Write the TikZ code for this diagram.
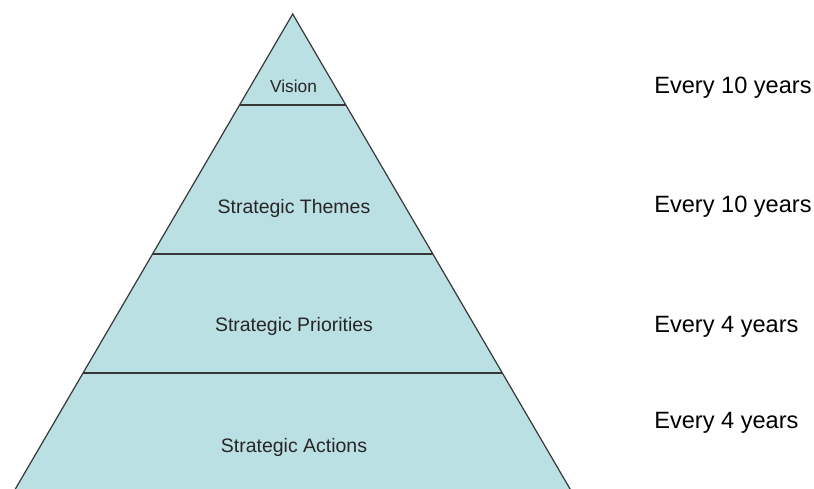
\documentclass[tikz,border=0pt]{standalone}
\usepackage{fontspec}
\setmainfont{Liberation Sans}
\usetikzlibrary{calc,positioning}
\definecolor{layerfill}{RGB}{187,224,227}
\definecolor{edgegray}{RGB}{55,55,55}

\begin{document}
\begin{tikzpicture}[x=0.75pt,y=-0.75pt,
    layer/.style={font=\fontsize{14.6}{16}\selectfont, text=black!85, anchor=base, inner sep=0pt},
    period/.style={font=\fontsize{17.7}{20}\selectfont, anchor=base west, inner sep=0pt},
    divider/.style={draw=edgegray, line width=1.4pt}]
  \useasboundingbox (0,0) rectangle (814,489);
  \clip (0,0) rectangle (814,489);

  \coordinate (apex) at (292.7,14);      % top of the pyramid
  \coordinate (left) at (8.9,500);       % base runs out of the frame
  \coordinate (right) at (576.5,500);

  \draw[fill=layerfill, draw=edgegray, line width=0.9pt] (apex) -- (right) -- (left) -- cycle;

  % horizontal dividers between the layers
  \draw[divider] ($(apex)!0.1872!(left)$) -- ($(apex)!0.1872!(right)$);
  \draw[divider] ($(apex)!0.4938!(left)$) -- ($(apex)!0.4938!(right)$);
  \draw[divider] ($(apex)!0.7387!(left)$) -- ($(apex)!0.7387!(right)$);

  % layer names
  \node[layer, font=\fontsize{13}{15}\selectfont] (vision) at (293.5,92) {Vision};
  \node[layer] (themes) at (294,213) {Strategic Themes};
  \node[layer] (priorities) at (294,331) {Strategic Priorities};
  \node[layer] (actions) at (294,452) {Strategic Actions};

  % how often each layer is reviewed
  \node[period] (p1) at (654,93) {Every 10 years};
  \node[period] (p2) at (654,212) {Every 10 years};
  \node[period] (p3) at (654,332) {Every 4 years};
  \node[period] (p4) at (654,428) {Every 4 years};
\end{tikzpicture}
\end{document}
